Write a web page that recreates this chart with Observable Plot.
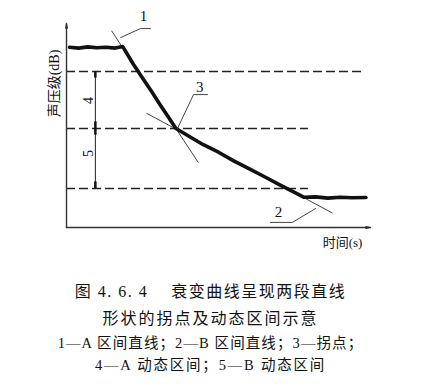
<!DOCTYPE html>
<html><head><meta charset="utf-8">
<script src="https://cdn.jsdelivr.net/npm/d3@7"></script>
<script src="https://cdn.jsdelivr.net/npm/@observablehq/plot@0.6"></script>
<style>
body{margin:0;background:#fff;color:#111;font-family:"Liberation Serif","Noto Sans CJK SC",serif}
#cap{width:421px;text-align:center;padding-top:18px}
#cap div{white-space:pre}
.l1{font-size:16px;line-height:28px;letter-spacing:1.5px}
.l2{font-size:16px;line-height:26px;letter-spacing:2px}
.l3,.l4{font-size:14.5px;line-height:22px;letter-spacing:1.1px}
.l4{letter-spacing:1.8px}
</style></head><body>
<div id="chart"></div>
<div id="cap"></div>
<script>
// decay curve (time s, level dB)
const curveT  = [0.1, 0.4, 0.7, 1.0, 1.3, 1.6, 1.85, 2.2, 2.5, 2.8, 3.1, 3.35, 3.6, 4.0, 4.5, 5.0, 5.5, 6.0, 6.5, 7.0, 7.5, 7.8, 8.2, 8.6, 9.0, 9.4, 9.85];
const curveDB = [60.1, 59.8, 60.2, 59.9, 60.1, 59.8, 60.3, 54.4, 49.8, 45.3, 40.6, 36.8, 33.0, 30.6, 27.6, 25.1, 22.2, 19.6, 17.0, 14.3, 11.7, 10.1, 10.2, 9.8, 10.1, 9.9, 10.0];
// dashed reference levels and their right ends
const levelDB  = [52, 33, 13];
const levelEnd = [9.74, 7.96, 7.96];
// fitted straight lines 1 (A) and 2 (B)
const lineName = ["1", "2"];
const lineX1 = [1.48, 2.63];
const lineY1 = [65.6, 38.1];
const lineX2 = [4.34, 8.75];
const lineY2 = [21.6, 4.8];
// leader lines for labels 1, 2, 3
const leaderId = ["1","1","1","3","3","3","2","2","2"];
const leaderX  = [1.78, 2.43, 2.76, 3.65, 4.18, 4.64, 8.19, 7.43, 6.71];
const leaderY  = [63.3, 66.3, 66.3, 33.0, 44.3, 44.3, 6.3, 1.7, 1.7];
const labelText = ["1", "3", "2"];
const labelX = [2.53, 4.38, 6.97];
const labelY = [70.3, 46.7, 5.0];
// dynamic ranges 4 and 5
const rangeName = ["4", "5"];
const rangeTop = [52, 33];
const rangeBot = [33, 13];
const rangeLabelY = [42.3, 24.7];
const captionLines = [
  "图 4. 6. 4　 衰变曲线呈现两段直线",
  "形状的拐点及动态区间示意",
  "1—A 区间直线；2—B 区间直线；3—拐点；",
  "4—A 动态区间；5—B 动态区间"
];

const curve = curveT.map((t, i) => ({t, db: curveDB[i]}));
const levels = levelDB.map((v, i) => ({y: v, x2: levelEnd[i]}));
const lines = lineName.map((n, i) => ({x1: lineX1[i], y1: lineY1[i], x2: lineX2[i], y2: lineY2[i]}));
const leaders = leaderId.map((id, i) => ({id, x: leaderX[i], y: leaderY[i]}));
const labels = labelText.map((s, i) => ({s, x: labelX[i], y: labelY[i]}));
const ranges = rangeName.map((s, i) => ({s, y1: rangeTop[i], y2: rangeBot[i], ly: rangeLabelY[i]}));
const ends = [{a: 52, b: 49.8}, {a: 35.2, b: 30.8}, {a: 15.2, b: 13}];

const font = "Liberation Serif, Noto Sans CJK SC, serif";
const chart = Plot.plot({
  width: 421, height: 260,
  marginLeft: 66, marginRight: 51, marginTop: 23, marginBottom: 33,
  x: {domain: [0, 10], axis: null},
  y: {domain: [0, 68], axis: null},
  style: {fontFamily: font, background: "white", color: "#111", overflow: "visible"},
  marks: [
    Plot.ruleY(levels, {y: "y", x1: 0, x2: "x2", stroke: "#222", strokeWidth: 1.3, strokeDasharray: "9,4"}),
    Plot.arrow([0], {x1: 0, y1: 0, x2: 0, y2: 68, stroke: "#333", strokeWidth: 1.4, headLength: 5, headAngle: 20}),
    Plot.arrow([0], {x1: 0, y1: 0, x2: 10, y2: 0, stroke: "#333", strokeWidth: 1.4, headLength: 5, headAngle: 20}),
    Plot.link(lines, {x1: "x1", y1: "y1", x2: "x2", y2: "y2", stroke: "#444", strokeWidth: 1}),
    Plot.line(curve, {x: "t", y: "db", stroke: "#111", strokeWidth: 3.6, strokeLinejoin: "round"}),
    Plot.line(leaders, {x: "x", y: "y", z: "id", stroke: "#444", strokeWidth: 1}),
    Plot.text(labels, {x: "x", y: "y", text: "s", fontSize: 15, fill: "#111"}),
    Plot.ruleX(ranges, {x: 0.95, y1: "y1", y2: "y2", stroke: "#222", strokeWidth: 1}),
    Plot.ruleX(ends, {x: 0.95, y1: "a", y2: "b", stroke: "#111", strokeWidth: 2.5}),
    Plot.text(ranges, {x: 0.72, y: "ly", text: "s", rotate: -90, fontSize: 14, fill: "#111"}),
    Plot.text(["声压级(dB)"], {x: -0.39, y: 48, text: d => d, rotate: -90, fontSize: 14, fill: "#111"}),
    Plot.text(["时间(s)"], {x: 9.08, y: -5, text: d => d, fontSize: 13, fill: "#111"})
  ]
});
document.getElementById("chart").append(chart);
const cap = document.getElementById("cap");
captionLines.forEach((s, i) => {
  const d = document.createElement("div");
  d.className = "l" + (i + 1);
  d.textContent = s;
  cap.append(d);
});
</script>
</body></html>
